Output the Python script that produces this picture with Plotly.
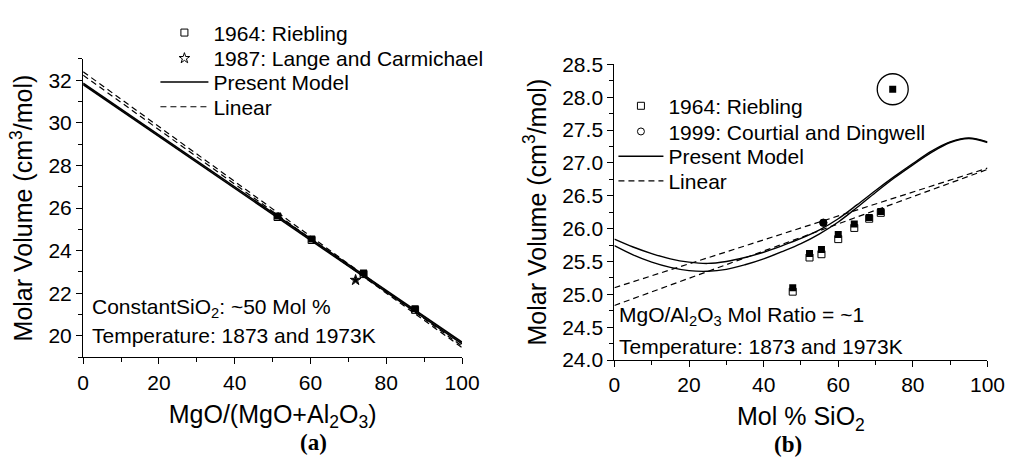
import plotly.graph_objects as go

# ---------------- Panel (a) data ----------------
a_line_x = [0, 100]
a_model_1 = [31.86, 19.70]
a_model_2 = [31.80, 19.62]
a_linear_1 = [32.40, 19.52]
a_linear_2 = [32.24, 19.45]

a_riebling_x = [51.3, 60.3, 74.0, 87.6]
a_riebling_open_y = [25.58, 24.50, 22.90, 21.22]
a_riebling_fill_y = [25.63, 24.55, 22.95, 21.27]

a_lange_x = [71.9]
a_lange_y = [22.62]

# ---------------- Panel (b) data ----------------
b_curve_x = [0, 5, 10, 15, 20, 25, 30, 35, 40, 45, 50, 55, 60, 65, 70, 75, 80, 85, 90, 95, 100]
b_model_1 = [25.84, 25.72, 25.62, 25.54, 25.49, 25.47, 25.50, 25.56, 25.64, 25.74, 25.85,
             25.98, 26.15, 26.36, 26.58, 26.79, 26.99, 27.18, 27.32, 27.38, 27.32]
b_model_2 = [25.74, 25.60, 25.49, 25.41, 25.36, 25.35, 25.38, 25.45, 25.54, 25.65, 25.77,
             25.92, 26.10, 26.32, 26.55, 26.77, 26.97, 27.16, 27.31, 27.37, 27.31]
b_line_x = [0, 100]
b_linear_1 = [25.10, 26.92]
b_linear_2 = [24.83, 26.90]

b_riebling_x = [47.8, 52.3, 55.5, 60.0, 64.3, 68.3, 71.4]
b_riebling_open_y = [25.04, 25.56, 25.61, 25.84, 26.01, 26.15, 26.24]
b_riebling_fill_y = [25.10, 25.62, 25.68, 25.91, 26.07, 26.17, 26.26]
b_outlier_x = [74.6]
b_outlier_y = [28.12]

b_courtial_x = [56.0]
b_courtial_y = [26.09]

FONT = "Liberation Sans, Arial, sans-serif"
BLACK = "#000000"
W, H = 1025, 468

fig = go.Figure()

# ---- panel (a) traces ----
fig.add_trace(go.Scatter(x=a_riebling_x, y=a_riebling_open_y, mode="markers",
                         name="1964: Riebling", legend="legend",
                         marker=dict(symbol="square-open", size=7, color=BLACK, line=dict(width=1, color=BLACK)),
                         xaxis="x", yaxis="y"))
fig.add_trace(go.Scatter(x=a_lange_x, y=a_lange_y, mode="markers",
                         name="1987: Lange and Carmichael", legend="legend2",
                         marker=dict(symbol="star-open", size=8, color=BLACK, line=dict(width=1, color=BLACK)),
                         xaxis="x", yaxis="y"))
fig.add_trace(go.Scatter(x=a_line_x, y=a_model_1, mode="lines", name="Present Model", legend="legend3",
                         line=dict(color=BLACK, width=1.6), xaxis="x", yaxis="y"))
fig.add_trace(go.Scatter(x=a_line_x, y=a_linear_1, mode="lines", name="Linear", legend="legend4",
                         line=dict(color=BLACK, width=1.2, dash="6px,4px"), xaxis="x", yaxis="y"))
fig.add_trace(go.Scatter(x=a_line_x, y=a_model_2, mode="lines", showlegend=False,
                         line=dict(color=BLACK, width=1.6), xaxis="x", yaxis="y"))
fig.add_trace(go.Scatter(x=a_line_x, y=a_linear_2, mode="lines", showlegend=False,
                         line=dict(color=BLACK, width=1.2, dash="6px,4px"), xaxis="x", yaxis="y"))
fig.add_trace(go.Scatter(x=a_riebling_x, y=a_riebling_fill_y, mode="markers", showlegend=False,
                         marker=dict(symbol="square", size=7, color=BLACK), xaxis="x", yaxis="y"))
fig.add_trace(go.Scatter(x=a_lange_x, y=a_lange_y, mode="markers", showlegend=False,
                         marker=dict(symbol="star", size=7, color=BLACK), xaxis="x", yaxis="y"))

# ---- panel (b) traces ----
fig.add_trace(go.Scatter(x=b_riebling_x, y=b_riebling_open_y, mode="markers",
                         name="1964: Riebling", legend="legend5",
                         marker=dict(symbol="square-open", size=7, color=BLACK, line=dict(width=1, color=BLACK)),
                         xaxis="x2", yaxis="y2"))
fig.add_trace(go.Scatter(x=b_courtial_x, y=b_courtial_y, mode="markers",
                         name="1999: Courtial and Dingwell", legend="legend6",
                         marker=dict(symbol="circle-open", size=7, color=BLACK, line=dict(width=1, color=BLACK)),
                         xaxis="x2", yaxis="y2"))
fig.add_trace(go.Scatter(x=b_curve_x, y=b_model_1, mode="lines", name="Present Model", legend="legend7",
                         line=dict(color=BLACK, width=1.4, shape="spline"), xaxis="x2", yaxis="y2"))
fig.add_trace(go.Scatter(x=b_line_x, y=b_linear_1, mode="lines", name="Linear", legend="legend8",
                         line=dict(color=BLACK, width=1.2, dash="6px,4px"), xaxis="x2", yaxis="y2"))
fig.add_trace(go.Scatter(x=b_curve_x, y=b_model_2, mode="lines", showlegend=False,
                         line=dict(color=BLACK, width=1.4, shape="spline"), xaxis="x2", yaxis="y2"))
fig.add_trace(go.Scatter(x=b_line_x, y=b_linear_2, mode="lines", showlegend=False,
                         line=dict(color=BLACK, width=1.2, dash="6px,4px"), xaxis="x2", yaxis="y2"))
fig.add_trace(go.Scatter(x=b_riebling_x, y=b_riebling_fill_y, mode="markers", showlegend=False,
                         marker=dict(symbol="square", size=7, color=BLACK), xaxis="x2", yaxis="y2"))
fig.add_trace(go.Scatter(x=b_courtial_x, y=b_courtial_y, mode="markers", showlegend=False,
                         marker=dict(symbol="circle", size=8, color=BLACK), xaxis="x2", yaxis="y2"))
fig.add_trace(go.Scatter(x=b_outlier_x, y=b_outlier_y, mode="markers", showlegend=False,
                         marker=dict(symbol="square", size=7, color=BLACK), xaxis="x2", yaxis="y2"))
fig.add_trace(go.Scatter(x=b_outlier_x, y=b_outlier_y, mode="markers", showlegend=False,
                         marker=dict(symbol="circle-open", size=31, color=BLACK, line=dict(width=1.3, color=BLACK)),
                         xaxis="x2", yaxis="y2"))


def px_x(p):
    return p / W


def px_y(p):
    return (H - p) / H


axis_common = dict(showline=True, linecolor=BLACK, linewidth=1.3, mirror=False,
                   ticks="outside", ticklen=6, tickwidth=1.2, tickcolor=BLACK,
                   showgrid=False, zeroline=False,
                   tickfont=dict(family=FONT, size=21, color=BLACK))


def leg(xp, yp, iw):
    return dict(x=px_x(xp), y=px_y(yp), xanchor="left", yanchor="middle",
                bgcolor="rgba(0,0,0,0)", borderwidth=0, itemwidth=iw, tracegroupgap=0,
                font=dict(family=FONT, size=21, color=BLACK))


fig.update_layout(
    width=W, height=H,
    margin=dict(l=0, r=0, t=0, b=0),
    paper_bgcolor="white", plot_bgcolor="white",
    font=dict(family=FONT, size=21, color=BLACK),
    xaxis=dict(domain=[px_x(79), px_x(467)], range=[0, 100], dtick=20, anchor="y",
               minor=dict(ticks="outside", ticklen=4, dtick=10, tickcolor=BLACK),
               title=dict(text="MgO/(MgO+Al<sub>2</sub>O<sub>3</sub>)", font=dict(size=25), standoff=12),
               **axis_common),
    yaxis=dict(domain=[px_y(363), px_y(49.4)], range=[19, 33], dtick=2, anchor="x",
               minor=dict(ticks="outside", ticklen=4, dtick=1, tickcolor=BLACK),
               title=dict(text="Molar Volume (cm<sup>3</sup>/mol)", font=dict(size=25), standoff=8),
               **axis_common),
    xaxis2=dict(domain=[px_x(623), px_x(1005)], range=[0, 100], dtick=20, anchor="y2",
                minor=dict(ticks="outside", ticklen=4, dtick=10, tickcolor=BLACK),
                title=dict(text="Mol % SiO<sub>2</sub>", font=dict(size=25), standoff=12),
                **axis_common),
    yaxis2=dict(domain=[px_y(366), px_y(55)], range=[24, 28.5], dtick=0.5, tickformat=".1f", anchor="x2",
                minor=dict(ticks="outside", ticklen=4, dtick=0.25, tickcolor=BLACK),
                title=dict(text="Molar Volume (cm<sup>3</sup>/mol)", font=dict(size=25), standoff=8),
                **axis_common),
    legend=leg(153, 22, 48),
    legend2=leg(153, 49, 48),
    legend3=leg(153, 74, 48),
    legend4=leg(153, 100, 48),
    legend5=leg(622, 99, 45),
    legend6=leg(622, 126, 45),
    legend7=leg(622, 152, 45),
    legend8=leg(622, 178, 45),
    showlegend=True,
)

annots = [
    dict(text="ConstantSiO<sub>2</sub>: ~50 Mol %", x=px_x(86), y=px_y(311)),
    dict(text="Temperature: 1873 and 1973K", x=px_x(86), y=px_y(340)),
    dict(text="MgO/Al<sub>2</sub>O<sub>3</sub> Mol Ratio = ~1", x=px_x(626), y=px_y(320)),
    dict(text="Temperature: 1873 and 1973K", x=px_x(626), y=px_y(352)),
]
for a in annots:
    fig.add_annotation(xref="paper", yref="paper", xanchor="left", yanchor="middle",
                       showarrow=False, font=dict(family=FONT, size=21, color=BLACK), **a)

for lbl, xp, yp in [("<b>(a)</b>", 315, 453), ("<b>(b)</b>", 801, 455)]:
    fig.add_annotation(xref="paper", yref="paper", x=px_x(xp), y=px_y(yp), xanchor="center", yanchor="middle",
                       showarrow=False, text=lbl,
                       font=dict(family="Liberation Serif, Times New Roman, serif", size=23, color=BLACK))

fig.write_html("out.html")
